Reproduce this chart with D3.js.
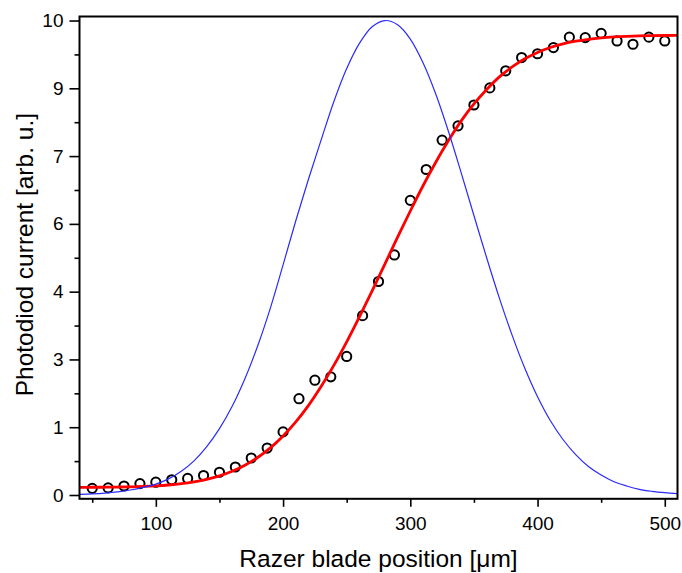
<!DOCTYPE html>
<html><head><meta charset="utf-8">
<script src="https://cdn.jsdelivr.net/npm/d3@7"></script>
<style>body{margin:0;background:#fff}svg{display:block}text{font-family:"Liberation Sans",Arial,sans-serif;fill:#000}</style>
</head><body><svg id="c" width="682" height="573"></svg>
<script>
// ---- data ----
const pointX = [50,62.5,75,87.5,100,112.5,125,137.5,150,162.5,175,187.5,200,212.5,225,237.5,250,262.5,275,287.5,300,312.5,325,337.5,350,362.5,375,387.5,400,412.5,425,437.5,450,462.5,475,487.5,500];
const pointY = [0.14,0.15,0.19,0.24,0.27,0.32,0.35,0.41,0.48,0.59,0.78,0.99,1.33,2.03,2.42,2.49,2.92,3.78,4.50,5.06,6.21,6.86,7.48,7.78,8.22,8.58,8.94,9.22,9.30,9.43,9.65,9.64,9.73,9.57,9.50,9.65,9.57];

const curveX = [40,50,60,70,80,90,100,110,120,130,140,150,160,170,180,190,200,210,220,230,240,250,260,270,280,290,300,310,320,330,340,350,360,370,380,390,400,410,420,430,440,450,460,470,480,490,500,510];
const fitY = [0.162,0.163,0.164,0.168,0.173,0.181,0.193,0.211,0.238,0.277,0.330,0.403,0.500,0.629,0.790,0.992,1.245,1.542,1.890,2.293,2.738,3.229,3.755,4.304,4.868,5.433,5.986,6.518,7.014,7.470,7.885,8.243,8.547,8.813,9.023,9.195,9.328,9.431,9.508,9.564,9.605,9.634,9.654,9.667,9.676,9.681,9.685,9.687];
const profileY = [0.014,0.024,0.040,0.065,0.105,0.16,0.23,0.34,0.50,0.72,1.02,1.40,1.87,2.45,3.14,3.94,4.85,5.78,6.66,7.49,8.30,8.99,9.52,9.87,10.0,9.91,9.61,9.11,8.45,7.66,6.79,5.89,5.00,4.15,3.37,2.67,2.07,1.57,1.17,0.85,0.60,0.42,0.28,0.19,0.12,0.078,0.049,0.030];

const xMajorTicks = [100,200,300,400,500];
const xMinorTicks = [50,150,250,350,450];
const yMajorTicks = [0,1.4286,2.8571,4.2857,5.7143,7.1429,8.5714,10];
const yMajorLabels = ["0","1","3","4","6","7","9","10"];
const yMinorTicks = [0.7143,2.1429,3.5714,5,6.4286,7.8571,9.2857];

const xTitle = "Razer blade position [μm]";
const yTitle = "Photodiod current [arb. u.]";

// ---- layout ----
const L = 79.5, R = 677.5, T = 16.5, B = 498.8;
const svg = d3.select("#c");
const x = d3.scaleLinear().domain([40,510]).range([L,R]);
const y = d3.scaleLinear().domain([-0.08,10.085]).range([B,T]);

// axes
const gx = svg.append("g").attr("transform",`translate(0,${B})`)
  .call(d3.axisBottom(x).tickValues(xMajorTicks).tickSize(8).tickSizeOuter(0).tickPadding(10));
const gxm = svg.append("g").attr("transform",`translate(0,${B})`)
  .call(d3.axisBottom(x).tickValues(xMinorTicks).tickSize(4).tickSizeOuter(0).tickFormat(""));
const gy = svg.append("g").attr("transform",`translate(${L},0)`)
  .call(d3.axisLeft(y).tickValues(yMajorTicks).tickFormat((d,i)=>yMajorLabels[i]).tickSize(10).tickSizeOuter(0).tickPadding(6));
const gym = svg.append("g").attr("transform",`translate(${L},0)`)
  .call(d3.axisLeft(y).tickValues(yMinorTicks).tickSize(5).tickSizeOuter(0).tickFormat(""));
[gx,gxm,gy,gym].forEach(g=>{
  g.select(".domain").remove();
  g.selectAll(".tick line").attr("stroke","#000").attr("stroke-width",1.6);
  g.selectAll(".tick text").attr("font-size",19).attr("font-family","Liberation Sans, Arial, sans-serif").attr("fill","#000");
});

// clip
svg.append("clipPath").attr("id","clip").append("rect").attr("x",L).attr("y",T).attr("width",R-L).attr("height",B-T);
const plot = svg.append("g").attr("clip-path","url(#clip)");

// points
plot.selectAll("circle").data(pointX).join("circle")
  .attr("cx",d=>x(d)).attr("cy",(d,i)=>y(pointY[i])).attr("r",4.6)
  .attr("fill","none").attr("stroke","#000").attr("stroke-width",2);

// fit line
const line = d3.line().x(d=>x(d[0])).y(d=>y(d[1])).curve(d3.curveMonotoneX);
plot.append("path").datum(curveX.map((d,i)=>[d,fitY[i]]))
  .attr("d",line).attr("fill","none").attr("stroke","#ff0000").attr("stroke-width",2.8);
plot.append("path").datum(curveX.map((d,i)=>[d,profileY[i]]))
  .attr("d",d3.line().x(d=>x(d[0])).y(d=>y(d[1])).curve(d3.curveCatmullRom))
  .attr("fill","none").attr("stroke","#2a2aff").attr("stroke-width",1.2);

// frame
svg.append("rect").attr("x",L).attr("y",T).attr("width",R-L).attr("height",B-T)
  .attr("fill","none").attr("stroke","#000").attr("stroke-width",2);

// titles
svg.append("text").attr("x",(L+R)/2).attr("y",567).attr("text-anchor","middle")
  .attr("font-size",24.5).text(xTitle);
svg.append("text").attr("transform",`translate(33,${(T+B)/2-3}) rotate(-90)`).attr("text-anchor","middle")
  .attr("font-size",24.5).text(yTitle);
</script></body></html>
